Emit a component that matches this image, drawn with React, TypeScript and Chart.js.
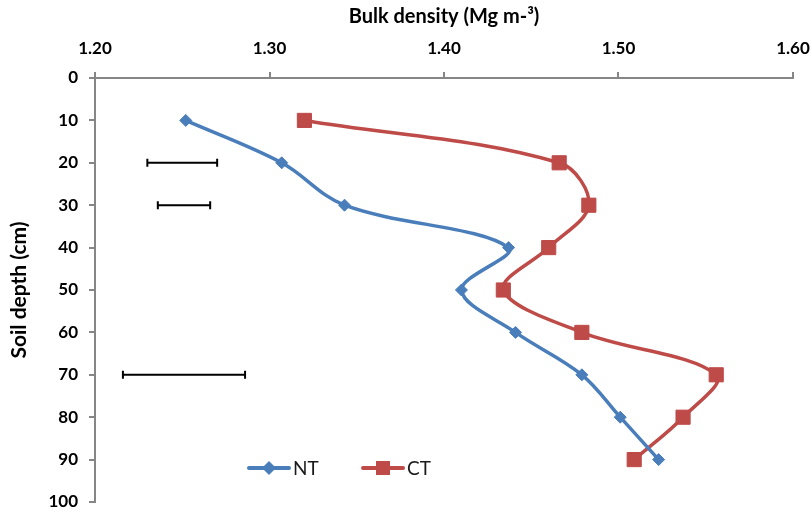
import React, { useEffect, useRef } from 'react';
import { Chart, registerables } from 'chart.js';

Chart.register(...registerables);

// ---- data ----
const depths = [10, 20, 30, 40, 50, 60, 70, 80, 90];
const ntValues = [1.252, 1.307, 1.343, 1.437, 1.41, 1.441, 1.479, 1.501, 1.523];
const ctValues = [1.32, 1.466, 1.483, 1.46, 1.434, 1.479, 1.556, 1.537, 1.509];
const errDepths = [20, 30, 70];
const errCenters = [1.25, 1.251, 1.251];
const errHalfWidths = [0.02, 0.015, 0.035];
const xTickValues = [1.2, 1.3, 1.4, 1.5, 1.6];
const seriesNames = ['NT', 'CT'];
const xTitle = 'Bulk density (Mg m-³)';
const yTitle = 'Soil depth (cm)';

const NT_COLOR = '#4A7EBB';
const CT_COLOR = '#BE4B48';
const AXIS_COLOR = '#868686';
const FONT = 'Lato, "Open Sans", "DejaVu Sans", sans-serif';

const errorBarPlugin = {
  id: 'errorBars',
  afterDatasetsDraw(chart: any) {
    const { ctx, scales } = chart;
    const xs = scales.x;
    const ys = scales.y;
    ctx.save();
    ctx.strokeStyle = '#000';
    ctx.lineWidth = 2;
    errDepths.forEach((d, i) => {
      const y = ys.getPixelForValue(d);
      const x0 = xs.getPixelForValue(errCenters[i] - errHalfWidths[i]);
      const x1 = xs.getPixelForValue(errCenters[i] + errHalfWidths[i]);
      ctx.beginPath();
      ctx.moveTo(x0, y);
      ctx.lineTo(x1, y);
      ctx.moveTo(x0, y - 4);
      ctx.lineTo(x0, y + 4);
      ctx.moveTo(x1, y - 4);
      ctx.lineTo(x1, y + 4);
      ctx.stroke();
    });
    ctx.restore();
  },
};

const legendPlugin = {
  id: 'innerLegend',
  afterDraw(chart: any) {
    const { ctx, chartArea } = chart;
    const y = chartArea.bottom - 34;
    const entries = [
      { name: seriesNames[0], color: NT_COLOR, style: 'diamond', x: chartArea.left + 154 },
      { name: seriesNames[1], color: CT_COLOR, style: 'square', x: chartArea.left + 268 },
    ];
    ctx.save();
    entries.forEach((e) => {
      ctx.strokeStyle = e.color;
      ctx.fillStyle = e.color;
      ctx.lineWidth = 4;
      ctx.lineCap = 'round';
      ctx.beginPath();
      ctx.moveTo(e.x, y);
      ctx.lineTo(e.x + 40, y);
      ctx.stroke();
      const cx = e.x + 20;
      ctx.beginPath();
      if (e.style === 'diamond') {
        ctx.moveTo(cx - 7, y);
        ctx.lineTo(cx, y - 7);
        ctx.lineTo(cx + 7, y);
        ctx.lineTo(cx, y + 7);
        ctx.closePath();
      } else {
        ctx.rect(cx - 7, y - 7, 14, 14);
      }
      ctx.fill();
      ctx.fillStyle = '#1a1a1a';
      ctx.font = `19px ${FONT}`;
      ctx.textBaseline = 'middle';
      ctx.textAlign = 'left';
      ctx.fillText(e.name, e.x + 44, y + 1);
    });
    ctx.restore();
  },
};

export default function App() {
  const canvasRef = useRef<HTMLCanvasElement | null>(null);

  useEffect(() => {
    if (!canvasRef.current) return;
    const tickFont = { family: FONT, size: 17, weight: 'bold' as const };
    const chart = new Chart(canvasRef.current, {
      type: 'scatter',
      data: {
        datasets: [
          {
            label: seriesNames[0],
            data: depths.map((d, i) => ({ x: ntValues[i], y: d })),
            showLine: true,
            borderColor: NT_COLOR,
            backgroundColor: NT_COLOR,
            borderWidth: 3.5,
            pointStyle: 'rectRot',
            pointRadius: 6,
            pointBorderWidth: 1,
            tension: 0.35,
          },
          {
            label: seriesNames[1],
            data: depths.map((d, i) => ({ x: ctValues[i], y: d })),
            showLine: true,
            borderColor: CT_COLOR,
            backgroundColor: CT_COLOR,
            borderWidth: 3.5,
            pointStyle: 'rect',
            pointRadius: 10,
            pointBorderWidth: 1,
            tension: 0.35,
          },
        ],
      },
      options: {
        animation: false,
        responsive: false,
        maintainAspectRatio: false,
        layout: { padding: { left: 0, top: 0, right: 19, bottom: 12 } },
        plugins: { legend: { display: false }, tooltip: { enabled: false } },
        scales: {
          x: {
            type: 'linear',
            position: 'top',
            min: 1.2,
            max: 1.6,
            afterBuildTicks: (s: any) => {
              s.ticks = xTickValues.map((v) => ({ value: v }));
            },
            ticks: {
              callback: (v: any) => Number(v).toFixed(2),
              font: tickFont,
              color: '#000',
              padding: 13,
              maxRotation: 0,
              autoSkip: false,
            },
            grid: {
              drawOnChartArea: false,
              drawTicks: true,
              tickLength: 6,
              color: AXIS_COLOR,
              lineWidth: 2,
            },
            border: { display: true, color: AXIS_COLOR, width: 2 },
            title: {
              display: true,
              text: xTitle,
              font: { family: FONT, size: 20, weight: 'bold' },
              color: '#000',
              padding: { top: 5, bottom: 0 },
            },
            afterFit: (s: any) => {
              s.height = 78;
              s.paddingLeft = 0;
              s.paddingRight = 0;
            },
          },
          y: {
            type: 'linear',
            reverse: true,
            min: 0,
            max: 100,
            ticks: { stepSize: 10, font: tickFont, color: '#000', padding: 11 },
            grid: {
              drawOnChartArea: false,
              drawTicks: true,
              tickLength: 6,
              color: AXIS_COLOR,
              lineWidth: 2,
            },
            border: { display: true, color: AXIS_COLOR, width: 2 },
            title: {
              display: true,
              text: yTitle,
              font: { family: FONT, size: 21, weight: 'bold' },
              color: '#000',
              padding: { top: 7, bottom: 0 },
            },
            afterFit: (s: any) => {
              s.width = 95;
              s.paddingTop = 0;
              s.paddingBottom = 0;
            },
          },
        },
      },
      plugins: [errorBarPlugin, legendPlugin],
    });
    return () => chart.destroy();
  }, []);

  return (
    <div style={{ position: 'absolute', left: 0, top: 0, width: 812, height: 514, background: '#fff' }}>
      <canvas ref={canvasRef} width={812} height={514} />
    </div>
  );
}
